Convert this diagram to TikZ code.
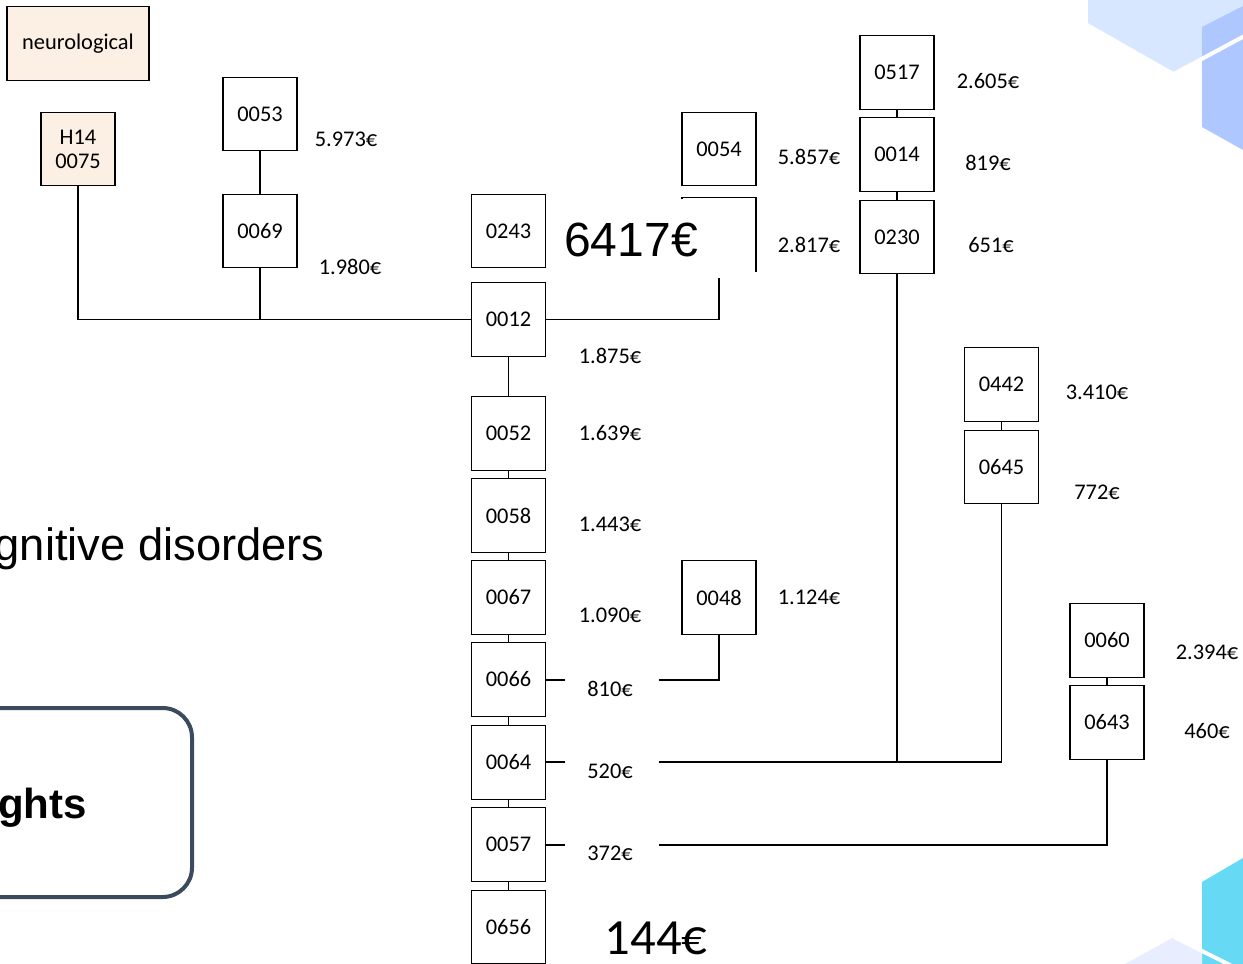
\documentclass[tikz,border=0pt]{standalone}
\usepackage{fontspec}
\setmainfont{Carlito}
\newfontfamily\arialf{Liberation Sans}
\definecolor{peach}{HTML}{FCF0E4}
\definecolor{hexlight}{HTML}{D6E7FF}
\definecolor{hexdark}{HTML}{AEC8FF}
\definecolor{hexcyan}{HTML}{66D9F5}
\definecolor{hexlav}{HTML}{E8EEFF}
\definecolor{slate}{HTML}{3B4A5C}
\tikzset{
  x=0.75pt, y=-0.75pt,
  idbox/.style={draw=black, line width=0.9pt, fill=white, minimum width=55.5pt, minimum height=55pt, inner sep=0pt, font=\fontsize{16.8}{19}\selectfont},
  peachbox/.style={idbox, fill=peach},
  price/.style={inner sep=0pt, font=\fontsize{16.8}{19}\selectfont},
  link/.style={draw=black, line width=0.9pt},
}
\begin{document}
\begin{tikzpicture}
\useasboundingbox (0,0) rectangle (1243,964);
\clip (0,0) rectangle (1243,964);
\fill[white] (0,0) rectangle (1243,964);

% decorations top right
\fill[hexlight] (1088,0) -- (1088,23) -- (1174,72) -- (1243,35) -- (1243,0) -- cycle;
\fill[hexdark] (1202,27) -- (1243,6) -- (1243,150) -- (1202,127) -- cycle;
\draw[white, line width=3pt] (1170,76) -- (1250,33);
% decorations bottom right
\fill[hexcyan] (1202,882) -- (1243,858) -- (1243,964) -- (1202,964) -- cycle;
\fill[hexlav] (1125,964) -- (1174,937) -- (1202,951) -- (1202,964) -- cycle;
\draw[white, line width=3pt] (1174,937) -- (1232,966);

% background text
\node[anchor=east, inner sep=0pt, font=\arialf\fontsize{34}{40}\selectfont] (cog) at (325,549) {Cognitive disorders};
\draw[slate, line width=3pt, rounded corners=22pt] (-40,708) rectangle (192,897);
\node[anchor=east, inner sep=0pt, font=\arialf\bfseries\fontsize{31.5}{36}\selectfont] (ins) at (87,808) {Insights};

% boxes
\node[peachbox, minimum width=106.5pt] (neuro) at (78,43.5) {neurological};
\node[peachbox, align=center, font=\fontsize{16.8}{18}\selectfont] (h14) at (78,149) {H14\\0075};
\node[idbox] (b0053) at (260,114) {0053};
\node[idbox] (b0069) at (260,231) {0069};
\node[idbox] (b0243) at (508.5,231) {0243};
\node[idbox] (b0012) at (508.5,319.5) {0012};
\node[idbox] (b0052) at (508.5,433.5) {0052};
\node[idbox] (b0058) at (508.5,515.5) {0058};
\node[idbox] (b0067) at (508.5,597.5) {0067};
\node[idbox] (b0066) at (508.5,679.5) {0066};
\node[idbox] (b0064) at (508.5,762.5) {0064};
\node[idbox] (b0057) at (508.5,844.5) {0057};
\node[idbox] (b0656) at (508.5,927) {0656};
\node[idbox] (b0054) at (719,149) {0054};
\node[idbox] (bhid) at (719,234.5) {};
\node[idbox] (b0048) at (719,597.5) {0048};
\node[idbox] (b0517) at (897,72.5) {0517};
\node[idbox] (b0014) at (897,154.5) {0014};
\node[idbox] (b0230) at (897,237) {0230};
\node[idbox] (b0442) at (1001.5,384.5) {0442};
\node[idbox] (b0645) at (1001.5,467) {0645};
\node[idbox] (b0060) at (1107,640.5) {0060};
\node[idbox] (b0643) at (1107,722.5) {0643};

% coordinates for free ends
\coordinate (c66a) at (565,680);
\coordinate (c66b) at (659,680);
\coordinate (c64a) at (565,762);
\coordinate (c64b) at (659,762);
\coordinate (c57a) at (565,845);
\coordinate (c57b) at (659,845);

% connectors
\draw[link] (b0053) -- (b0069);
\draw[link] (h14.south) |- (b0012.west);
\draw[link] (b0069.south) -- (b0069.south |- b0012.west);
\draw[link] (b0012.east) -| (bhid.south);
\draw[link] (b0012) -- (b0052);
\draw[link] (b0052) -- (b0058);
\draw[link] (b0058) -- (b0067);
\draw[link] (b0067) -- (b0066);
\draw[link] (b0066) -- (b0064);
\draw[link] (b0064) -- (b0057);
\draw[link] (b0057) -- (b0656);
\draw[link] (b0517) -- (b0014);
\draw[link] (b0014) -- (b0230);
\draw[link] (b0442) -- (b0645);
\draw[link] (b0060) -- (b0643);
\draw[link] (b0066.east |- c66a) -- (c66a);
\draw[link] (c66b) -| (b0048.south);
\draw[link] (b0064.east |- c64a) -- (c64a);
\draw[link] (c64b) -| (b0645.south);
\draw[link] (b0230.south) -- (b0230.south |- c64b);
\draw[link] (b0057.east |- c57a) -- (c57a);
\draw[link] (c57b) -| (b0643.south);

% white label covering
\fill[white] (560,199) rectangle (755,278);
\node[inner sep=0pt, font=\arialf\fontsize{36}{42}\selectfont] (big6417) at (631,240) {6417€};
\node[inner sep=0pt, font=\fontsize{38}{44}\selectfont] (big144) at (656,938) {144€};

% prices
\node[price] (p5973) at (346,139) {5.973€};
\node[price] (p1980) at (350,267) {1.980€};
\node[price] (p1875) at (610,356) {1.875€};
\node[price] (p1639) at (610,433) {1.639€};
\node[price] (p1443) at (610,524) {1.443€};
\node[price] (p1090) at (610,615) {1.090€};
\node[price] (p810) at (610,689) {810€};
\node[price] (p520) at (610,771) {520€};
\node[price] (p372) at (610,853) {372€};
\node[price] (p1124) at (809,597) {1.124€};
\node[price] (p5857) at (809,157) {5.857€};
\node[price] (p2817) at (809,245) {2.817€};
\node[price] (p2605) at (988,81) {2.605€};
\node[price] (p819) at (988,163) {819€};
\node[price] (p651) at (991,245) {651€};
\node[price] (p3410) at (1097,392) {3.410€};
\node[price] (p772) at (1097,492) {772€};
\node[price] (p2394) at (1207,652) {2.394€};
\node[price] (p460) at (1207,731) {460€};
\end{tikzpicture}
\end{document}
